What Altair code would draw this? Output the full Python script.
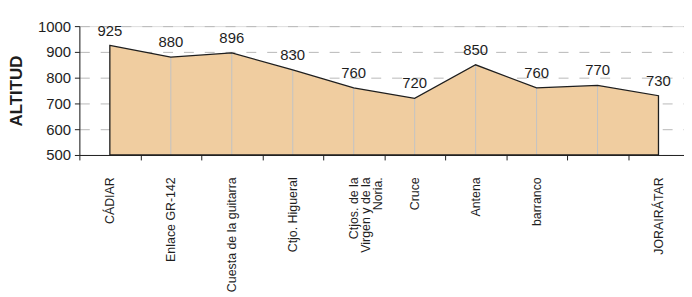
import altair as alt
import pandas as pd

places = ["CÁDIAR", "Enlace GR-142", "Cuesta de la guitarra", "Ctjo. Higueral",
          "Ctjos. de la\nVirgen y de la\nNoria.", "Cruce", "Antena", "barranco", " ",
          "JORAIRÁTAR"]
altitudes = [925, 880, 896, 830, 760, 720, 850, 760, 770, 730]
y_ticks = [500, 600, 700, 800, 900, 1000]
baseline = 500

df = pd.DataFrame({"place": places, "alt": altitudes, "base": [baseline] * len(places)})
inner = df.iloc[1:-1]

FONT = "Liberation Sans"
DARK = "#1e1e1e"

x_enc = alt.X(
    "place:N", sort=places, bandPosition=0.5,
    scale=alt.Scale(type="band", paddingInner=0, paddingOuter=0, range=[0, 615]),
    axis=alt.Axis(title=None, labelAngle=270, labelPadding=17, labelFontSize=12.5,
                  labelLineHeight=12, labelColor=DARK, labelFont=FONT,
                  tickBand="extent", tickSize=5, tickColor=DARK, domainColor=DARK,
                  labelOverlap=False, grid=False,
                  labelExpr="split(datum.label, '\\n')"),
)
y_scale = alt.Scale(domain=[500, 1000], nice=False, zero=False)
y_axis = alt.Axis(values=y_ticks, format="d", grid=True, gridDash=[10, 11],
                  gridColor="#b8b8b8",
                  domainColor=DARK, tickColor=DARK, tickSize=5, labelPadding=4,
                  labelFontSize=15, labelColor=DARK, labelFont=FONT, labelOverlap=False,
                  title="ALTITUD", titleFont=FONT, titleFontSize=17, titleFontWeight="bold",
                  titleColor=DARK, titleAngle=270, titleX=-63, titleY=65,
                  titleAlign="center", titleBaseline="middle")
y_enc = alt.Y("alt:Q", scale=y_scale, axis=y_axis)

base = alt.Chart(df)
fill = base.mark_area(color="#f0cda0", strokeWidth=0).encode(x=x_enc, y=y_enc, y2="base:Q")
drops = alt.Chart(inner).mark_rule(color="#c2c2c2", strokeWidth=1).encode(
    x=x_enc, y=y_enc, y2="base:Q")
outline = base.mark_area(fillOpacity=0, stroke=DARK, strokeWidth=1.3).encode(
    x=x_enc, y=y_enc, y2="base:Q")
labels = base.mark_text(baseline="alphabetic", dy=-10, fontSize=15, font=FONT,
                        color=DARK).encode(x=x_enc, y=y_enc, text="alt:Q")

chart = alt.layer(fill, drops, outline, labels).properties(
    width=610, height=130,
    padding={"left": 72, "top": 17, "right": 0, "bottom": 142},
    autosize="none",
).configure_view(stroke=None).configure(font=FONT)

chart.save("out.html", embed_options={"renderer": "svg", "actions": False})
